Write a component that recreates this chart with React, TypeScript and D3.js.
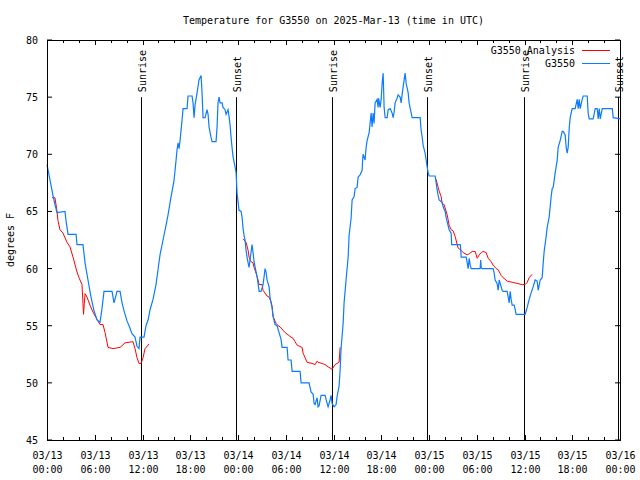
import * as d3 from "d3";

// hours since 2025-03-13 00:00 UTC, temperature in degrees F
const observed: [number, number][] = [
  [0, 69.1], [0.25, 68.2], [0.5, 67.3], [0.75, 66.4], [1.0, 65.6], [1.26, 64.9], [2.26, 65.0],
  [2.39, 64.2], [2.64, 63.0], [3.65, 63.0], [3.77, 62.1], [4.52, 62.1], [4.78, 60.5], [5.15, 59.0],
  [5.53, 57.5], [5.91, 56.3], [6.29, 55.5], [6.66, 55.3], [6.91, 56.5], [7.16, 58.0], [8.17, 58.0],
  [8.42, 57.0], [8.8, 58.0], [9.18, 58.0], [9.43, 57.0], [9.68, 56.3], [10.06, 55.4], [10.31, 55.0],
  [10.68, 54.3], [11.06, 54.0], [11.31, 53.2], [11.56, 53.0], [11.69, 54.0], [12.19, 54.0],
  [12.44, 55.0], [12.7, 55.5], [12.95, 56.4], [13.32, 57.3], [13.7, 58.6], [13.95, 59.9],
  [14.2, 61.2], [14.58, 62.5], [14.96, 63.8], [15.21, 64.7], [15.59, 66.3], [15.96, 67.7],
  [16.09, 68.6], [16.22, 69.5], [16.34, 70.4], [16.47, 71.0], [16.59, 70.5], [16.72, 71.2],
  [16.97, 73.0], [17.1, 74.0], [17.6, 74.0], [17.72, 75.1], [18.23, 75.1], [18.35, 74.5],
  [18.48, 73.2], [18.6, 74.3], [18.86, 75.4], [19.1, 76.5], [19.36, 76.9], [19.48, 75.4],
  [19.61, 73.2], [19.86, 73.2], [20.11, 73.9], [20.24, 73.5], [20.36, 72.4], [20.61, 71.5],
  [20.74, 71.1], [21.24, 71.1], [21.37, 72.4], [21.49, 74.5], [21.62, 75.0], [21.75, 74.5],
  [22.0, 74.5], [22.12, 74.1], [22.37, 73.9], [22.5, 73.5], [22.75, 73.9], [22.88, 73.3],
  [23.0, 72.6], [23.13, 71.5], [23.25, 70.6], [23.38, 69.8], [23.63, 68.9], [23.76, 68.4],
  [23.88, 66.6], [24.13, 65.1], [24.39, 65.0], [24.51, 64.5], [24.64, 63.5], [24.76, 62.9],
  [24.89, 62.5], [25.01, 61.6], [25.14, 61.0], [25.27, 60.5], [25.39, 60.1], [25.52, 60.8],
  [25.77, 62.1], [25.89, 61.4], [26.02, 60.6], [26.27, 59.7], [26.4, 59.3], [26.52, 58.7],
  [26.65, 58.0], [26.9, 58.0], [27.15, 58.6], [27.28, 59.3], [27.4, 60.0], [27.53, 59.7],
  [27.65, 59.0], [27.91, 58.4], [28.03, 57.4], [28.28, 56.6], [28.41, 55.8], [28.66, 55.1],
  [28.91, 55.0], [29.16, 54.4], [29.41, 53.8], [29.54, 53.1], [30.17, 53.1], [30.29, 52.0],
  [30.67, 52.0], [30.8, 51.0], [31.8, 51.0], [31.93, 50.0], [32.93, 50.0], [33.18, 49.2],
  [33.44, 49.0], [33.56, 48.2], [33.69, 48.1], [33.94, 48.7], [34.06, 47.9], [34.19, 48.0],
  [34.44, 48.9], [34.94, 48.9], [35.2, 48.2], [35.32, 47.9], [35.57, 48.5], [35.7, 48.9],
  [35.82, 48.2], [36.08, 47.9], [36.33, 48.1], [36.45, 48.8], [36.7, 49.7], [36.83, 51.1],
  [36.96, 53.1], [37.21, 55.2], [37.33, 57.0], [37.58, 59.0], [37.84, 61.0], [37.96, 62.9],
  [38.21, 64.4], [38.34, 66.0], [38.59, 66.3], [38.72, 67.0], [38.97, 67.1], [39.09, 68.0],
  [39.34, 68.2], [39.6, 68.6], [39.66, 69.5], [39.72, 70.0], [39.97, 69.5], [40.1, 70.6],
  [40.22, 71.2], [40.48, 71.9], [40.6, 72.7], [40.73, 73.6], [40.85, 72.4], [40.98, 73.6],
  [41.1, 72.7], [41.23, 74.5], [41.48, 74.8], [41.61, 74.1], [41.67, 74.9], [41.86, 74.1],
  [41.99, 74.8], [42.11, 76.2], [42.24, 77.1], [42.3, 75.6], [42.36, 74.1], [42.49, 73.2],
  [42.74, 73.2], [42.87, 73.9], [43.12, 74.0], [43.37, 73.6], [43.49, 73.2], [43.62, 73.7],
  [43.74, 74.5], [43.99, 74.9], [44.12, 75.2], [44.37, 75.0], [44.5, 74.5], [44.62, 75.2],
  [44.75, 75.9], [45.0, 77.1], [45.13, 76.2], [45.38, 75.4], [45.5, 74.5], [45.76, 73.6],
  [45.88, 73.2], [46.89, 73.2], [47.01, 72.1], [47.14, 71.5], [47.26, 70.8], [47.51, 70.1],
  [47.64, 69.5], [47.77, 68.9], [47.89, 68.4], [48.02, 68.1], [48.77, 68.1], [48.9, 67.5],
  [49.02, 66.9], [49.15, 66.4], [49.27, 66.0], [49.65, 65.8], [49.78, 65.4], [50.03, 65.0],
  [50.15, 64.5], [50.28, 64.1], [50.53, 63.4], [50.78, 63.1], [50.85, 62.1], [51.92, 62.1],
  [51.98, 61.8], [52.04, 61.0], [52.67, 61.0], [52.8, 60.5], [52.92, 60.0], [53.05, 60.9],
  [53.18, 60.3], [53.3, 60.0], [54.43, 60.0], [54.49, 60.75], [54.56, 60.1], [54.68, 60.0],
  [56.06, 60.0], [56.19, 59.6], [56.31, 59.0], [56.56, 58.7], [56.69, 58.1], [56.82, 59.0],
  [57.07, 58.4], [57.19, 58.1], [57.32, 58.0], [57.82, 58.0], [57.95, 57.5], [58.07, 57.0],
  [58.2, 58.0], [58.32, 57.3], [58.45, 56.8], [58.7, 56.8], [58.83, 56.4], [58.95, 56.0],
  [60.08, 56.0], [60.34, 56.6], [60.59, 57.3], [60.84, 57.9], [61.09, 58.4], [61.34, 59.0],
  [61.59, 58.9], [61.72, 58.1], [61.97, 59.0], [62.22, 59.2], [62.35, 60.5], [62.47, 61.5],
  [62.72, 62.8], [62.85, 63.6], [63.1, 64.5], [63.35, 66.3], [63.48, 67.0], [63.6, 67.1],
  [63.86, 68.4], [64.11, 69.5], [64.23, 70.6], [64.48, 71.2], [64.74, 72.0], [64.86, 72.0],
  [65.11, 71.7], [65.24, 70.6], [65.36, 70.1], [65.49, 70.6], [65.62, 72.3], [65.74, 73.2],
  [65.99, 74.0], [66.37, 74.0], [66.62, 74.8], [66.75, 74.0], [66.87, 74.8], [67.0, 74.0],
  [67.25, 74.8], [67.38, 75.1], [67.88, 75.1], [68.0, 73.6], [68.13, 73.1], [68.63, 73.1],
  [68.89, 74.0], [69.14, 74.0], [69.26, 73.1], [69.39, 74.0], [69.52, 73.1], [69.77, 74.0],
  [71.03, 74.0], [71.15, 73.2], [72.0, 73.1],
];

const analysisDay1: [number, number][] = [
  [0.63, 66.2], [1.0, 66.2], [1.26, 65.0], [1.38, 64.2], [1.63, 63.4], [2.01, 63.1], [2.51, 62.3],
  [2.89, 61.9], [3.27, 61.0], [3.77, 59.7], [4.02, 59.2], [4.4, 58.6], [4.59, 56.0], [4.78, 57.8],
  [5.03, 57.5], [5.4, 56.8], [5.78, 56.2], [6.16, 55.7], [6.66, 55.1], [7.04, 55.1], [7.29, 54.4],
  [7.67, 53.1], [8.3, 53.0], [9.18, 53.1], [9.8, 53.5], [10.81, 53.6], [11.06, 53.0], [11.31, 52.2],
  [11.56, 51.7], [11.82, 51.7], [12.07, 52.2], [12.32, 53.0], [12.82, 53.4],
];

const analysisDay2: [number, number][] = [
  [24.64, 62.6], [25.01, 62.3], [25.27, 61.6], [25.39, 61.0], [25.64, 60.6], [25.89, 60.5],
  [26.02, 60.1], [26.27, 59.6], [26.52, 59.0], [26.65, 58.6], [27.03, 58.6], [27.15, 58.1],
  [27.65, 57.6], [27.91, 57.5], [28.16, 57.1], [28.28, 56.7], [28.41, 55.8], [28.79, 55.2],
  [29.04, 55.0], [29.29, 54.9], [29.66, 54.6], [29.92, 54.4], [30.29, 54.2], [30.67, 54.0],
  [30.92, 53.9], [31.17, 53.6], [31.43, 53.3], [32.05, 53.1], [32.18, 52.6], [32.43, 52.2],
  [32.68, 51.8], [33.31, 51.7], [33.69, 51.6], [33.94, 51.9], [34.06, 51.8], [34.57, 51.7],
  [34.94, 51.6], [35.32, 51.4], [35.82, 51.2], [36.2, 51.6], [36.7, 51.8], [36.83, 53.1],
];

const analysisDay3: [number, number][] = [
  [48.9, 67.8], [49.15, 67.1], [49.27, 66.8], [49.52, 66.3], [49.65, 65.7], [49.9, 65.6],
  [50.03, 65.3], [50.28, 64.7], [50.4, 64.3], [50.53, 63.8], [50.78, 63.4], [51.03, 63.3],
  [51.29, 62.8], [51.54, 62.1], [51.66, 61.8], [52.04, 61.6], [52.29, 61.4], [52.8, 61.2],
  [53.05, 61.3], [53.43, 61.5], [53.8, 61.5], [54.06, 60.9], [54.31, 61.2], [54.56, 61.4],
  [54.81, 61.5], [55.18, 61.4], [55.44, 60.9], [55.81, 60.6], [56.06, 60.3], [56.44, 60.0],
  [56.69, 59.9], [57.07, 59.4], [57.32, 59.2], [57.82, 58.9], [58.45, 58.8], [59.08, 58.7],
  [59.71, 58.6], [60.08, 58.6], [60.34, 58.8], [60.59, 59.2], [60.96, 59.5],
];

const sunriseHours = [11.8, 35.8, 59.9];
const sunsetHours = [23.75, 47.75, 71.75];
const yTicks = [45, 50, 55, 60, 65, 70, 75, 80];
const majorTickHours = [0, 6, 12, 18, 24, 30, 36, 42, 48, 54, 60, 66, 72];

const W = 640;
const H = 480;
const M = { left: 47, right: 20, top: 40, bottom: 40 };
const FONT = "'DejaVu Sans Mono', 'Liberation Mono', monospace";
const BLUE = "#0c7bff";
const RED = "#ff0000";

const start = Date.UTC(2025, 2, 13);
const toDate = (h: number) => new Date(start + h * 3600 * 1000);

export default function App() {
  const x = d3
    .scaleUtc()
    .domain([toDate(0), toDate(72)])
    .range([M.left, W - M.right]);
  const y = d3.scaleLinear().domain([45, 80]).range([H - M.bottom, M.top]);

  const line = d3
    .line<[number, number]>()
    .x((d) => x(toDate(d[0])))
    .y((d) => y(d[1]));

  const fmtDay = d3.utcFormat("%m/%d");
  const fmtTime = d3.utcFormat("%H:%M");
  const minorTicks = d3.range(0, 73, 2).filter((h) => h % 6 !== 0);

  const x0 = M.left;
  const x1 = W - M.right;
  const yTop = M.top;
  const yBot = H - M.bottom;

  const events = [
    ...sunriseHours.map((h) => ({ h, label: "Sunrise" })),
    ...sunsetHours.map((h) => ({ h, label: "Sunset" })),
  ];

  return (
    <svg
      width={W}
      height={H}
      style={{ position: "absolute", left: 0, top: 0, background: "#fff" }}
      fontFamily={FONT}
      fontSize={10}
    >
      <rect x={0} y={0} width={W} height={H} fill="#fff" />
      <text x={(x0 + x1) / 2} y={24} textAnchor="middle">
        Temperature for G3550 on 2025-Mar-13 (time in UTC)
      </text>

      {/* y axis ticks and labels */}
      {yTicks.map((t) => (
        <g key={"y" + t}>
          <line x1={x0} x2={x0 + 5} y1={y(t)} y2={y(t)} stroke="#000" />
          <line x1={x1} x2={x1 - 5} y1={y(t)} y2={y(t)} stroke="#000" />
          <text x={38} y={y(t) + 4} textAnchor="end">
            {t}
          </text>
        </g>
      ))}
      <text transform={`translate(14,${(yTop + yBot) / 2}) rotate(-90)`} textAnchor="middle">
        degrees F
      </text>

      {/* x axis ticks and labels */}
      {majorTickHours.map((h) => {
        const px = Math.round(x(toDate(h))) + 0.5;
        return (
          <g key={"x" + h}>
            <line x1={px} x2={px} y1={yBot} y2={yBot - 5} stroke="#000" />
            <line x1={px} x2={px} y1={yTop} y2={yTop + 5} stroke="#000" />
            <text x={px} y={459} textAnchor="middle">
              {fmtDay(toDate(h))}
            </text>
            <text x={px} y={473} textAnchor="middle">
              {fmtTime(toDate(h))}
            </text>
          </g>
        );
      })}
      {minorTicks.map((h) => {
        const px = Math.round(x(toDate(h))) + 0.5;
        return (
          <g key={"m" + h}>
            <line x1={px} x2={px} y1={yBot} y2={yBot - 3} stroke="#000" />
            <line x1={px} x2={px} y1={yTop} y2={yTop + 3} stroke="#000" />
          </g>
        );
      })}

      {/* sunrise / sunset markers */}
      {events.map((e) => {
        const px = Math.round(x(toDate(e.h))) + 0.5;
        return (
          <g key={e.label + e.h}>
            <line x1={px} x2={px} y1={y(75)} y2={yBot} stroke="#000" />
            <text transform={`translate(${px + 4},${y(75) - 5}) rotate(-90)`} textAnchor="start">
              {e.label}
            </text>
          </g>
        );
      })}

      {/* series */}
      {[analysisDay1, analysisDay2, analysisDay3].map((seg, i) => (
        <path key={"a" + i} d={line(seg) ?? ""} fill="none" stroke={RED} strokeWidth={1} />
      ))}
      <path d={line(observed) ?? ""} fill="none" stroke={BLUE} strokeWidth={1.2} />

      {/* legend */}
      <text x={575} y={54} textAnchor="end">
        G3550 Analysis
      </text>
      <line x1={582} x2={610} y1={50.5} y2={50.5} stroke={RED} />
      <text x={575} y={67} textAnchor="end">
        G3550
      </text>
      <line x1={582} x2={610} y1={63.5} y2={63.5} stroke={BLUE} />

      {/* frame */}
      <rect x={x0 + 0.5} y={yTop + 0.5} width={x1 - x0} height={yBot - yTop} fill="none" stroke="#000" />
    </svg>
  );
}
